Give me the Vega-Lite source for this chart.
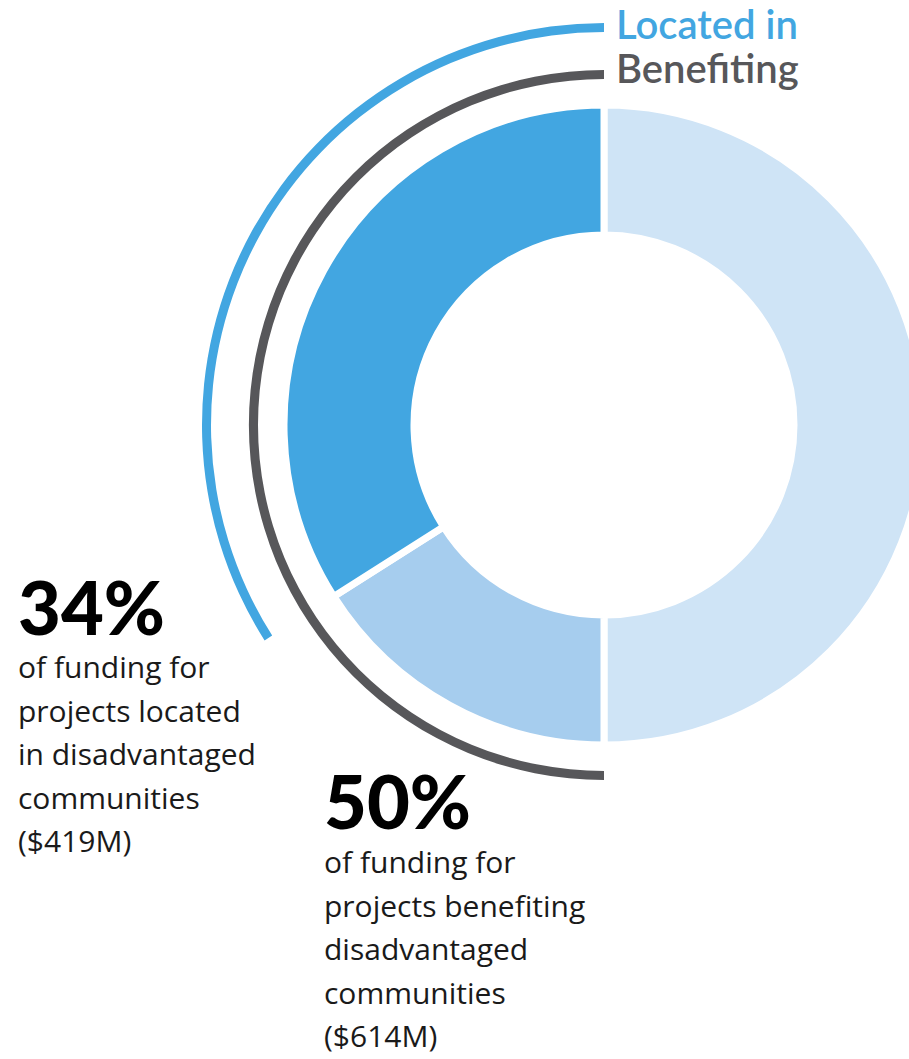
{
  "$schema": "https://vega.github.io/schema/vega-lite/v6.json",
  "width": 909,
  "height": 1059,
  "autosize": "none",
  "padding": 0,
  "background": "white",
  "config": {"view": {"stroke": null}},
  "datasets": {
    "segments": [
      {"segment": "Not in or benefiting", "start": 0, "end": 50},
      {"segment": "Benefiting only", "start": 50, "end": 66},
      {"segment": "Located in", "start": 66, "end": 100}
    ],
    "rings": [
      {"ring": "Located in", "start": 66, "end": 100},
      {"ring": "Benefiting", "start": 50, "end": 100}
    ],
    "ringLabels": [
      {"label": "Located in", "x": 616, "y": 39},
      {"label": "Benefiting", "x": 616, "y": 83}
    ],
    "percents": [
      {"text": "34%", "x": 18, "y": 635},
      {"text": "50%", "x": 324, "y": 829}
    ],
    "notes": [
      {"lines": ["of funding for", "projects located", "in disadvantaged", "communities", "($419M)"], "x": 18, "y": 678},
      {"lines": ["of funding for", "projects benefiting", "disadvantaged", "communities", "($614M)"], "x": 324, "y": 873}
    ]
  },
  "layer": [
    {
      "data": {"name": "segments"},
      "mark": {"type": "arc", "radius": 320, "radius2": 190, "stroke": "white", "strokeWidth": 7},
      "encoding": {
        "x": {"datum": 604, "type": "quantitative", "scale": {"domain": [0, 909], "nice": false, "zero": false}, "axis": null},
        "y": {"datum": 425, "type": "quantitative", "scale": {"domain": [0, 1059], "nice": false, "zero": false, "reverse": true}, "axis": null},
        "theta": {"field": "start", "type": "quantitative", "stack": null, "scale": {"domain": [0, 100]}},
        "theta2": {"field": "end"},
        "color": {"field": "segment", "type": "nominal", "legend": null,
          "scale": {"domain": ["Not in or benefiting", "Benefiting only", "Located in"], "range": ["#cfe4f6", "#a6cdee", "#42a6e1"]}}
      }
    },
    {
      "data": {"name": "rings"},
      "transform": [{"filter": "datum.ring === 'Located in'"}],
      "mark": {"type": "arc", "radius": 402, "radius2": 393, "color": "#42a6e1"},
      "encoding": {
        "x": {"datum": 604, "type": "quantitative"},
        "y": {"datum": 425, "type": "quantitative"},
        "theta": {"field": "start", "type": "quantitative", "stack": null},
        "theta2": {"field": "end"}
      }
    },
    {
      "data": {"name": "rings"},
      "transform": [{"filter": "datum.ring === 'Benefiting'"}],
      "mark": {"type": "arc", "radius": 355, "radius2": 346, "color": "#57575a"},
      "encoding": {
        "x": {"datum": 604, "type": "quantitative"},
        "y": {"datum": 425, "type": "quantitative"},
        "theta": {"field": "start", "type": "quantitative", "stack": null},
        "theta2": {"field": "end"}
      }
    },
    {
      "data": {"name": "ringLabels"},
      "transform": [{"filter": "datum.label === 'Located in'"}],
      "mark": {"type": "text", "align": "left", "baseline": "alphabetic", "font": "Lato", "fontSize": 40, "fontWeight": 600, "color": "#42a6e1"},
      "encoding": {
        "x": {"field": "x", "type": "quantitative"},
        "y": {"field": "y", "type": "quantitative"},
        "text": {"field": "label"}
      }
    },
    {
      "data": {"name": "ringLabels"},
      "transform": [{"filter": "datum.label === 'Benefiting'"}],
      "mark": {"type": "text", "align": "left", "baseline": "alphabetic", "font": "Lato", "fontSize": 40, "fontWeight": 600, "color": "#57575a"},
      "encoding": {
        "x": {"field": "x", "type": "quantitative"},
        "y": {"field": "y", "type": "quantitative"},
        "text": {"field": "label"}
      }
    },
    {
      "data": {"name": "percents"},
      "mark": {"type": "text", "align": "left", "baseline": "alphabetic", "font": "Lato", "fontSize": 74, "fontWeight": 900, "color": "#000000"},
      "encoding": {
        "x": {"field": "x", "type": "quantitative"},
        "y": {"field": "y", "type": "quantitative"},
        "text": {"field": "text"}
      }
    },
    {
      "data": {"name": "notes"},
      "mark": {"type": "text", "align": "left", "baseline": "alphabetic", "font": "Open Sans", "fontSize": 30, "lineHeight": 43.5, "color": "#1a1a1a"},
      "encoding": {
        "x": {"field": "x", "type": "quantitative"},
        "y": {"field": "y", "type": "quantitative"},
        "text": {"field": "lines"}
      }
    }
  ]
}
